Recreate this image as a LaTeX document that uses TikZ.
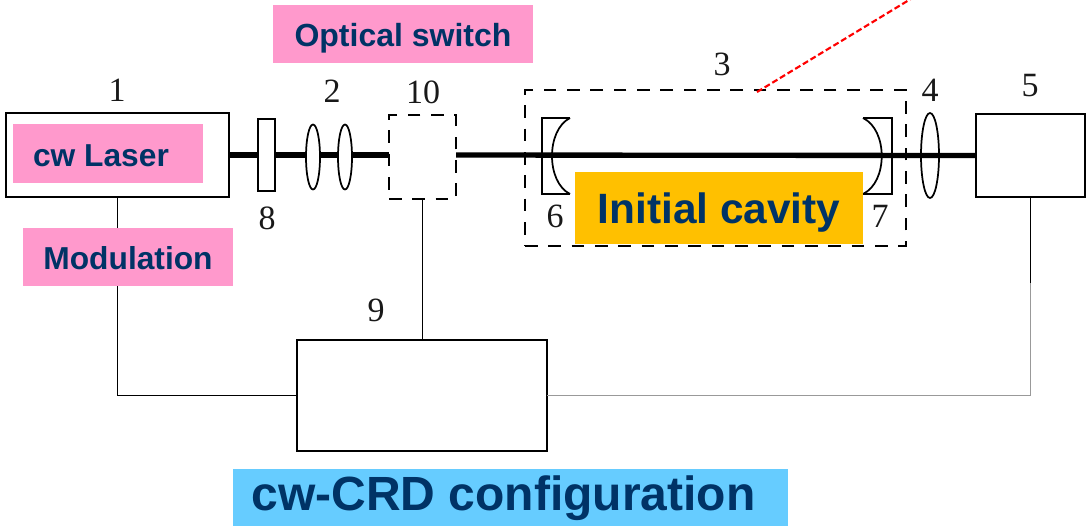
\documentclass[tikz,border=0pt]{standalone}
\usepackage{fontspec}
\setmainfont{Liberation Serif}
\newfontfamily\tagfont{Liberation Sans}[BoldFont={Liberation Sans Bold}]
\usetikzlibrary{shapes.geometric}
\definecolor{navy}{HTML}{003366}
\definecolor{pinktag}{HTML}{FF99CC}
\definecolor{orangetag}{HTML}{FFC000}
\definecolor{bluetag}{HTML}{66CCFF}
\definecolor{greyline}{HTML}{999999}
\tikzset{
  sz/.style 2 args={minimum width=#1*0.75pt, minimum height=#2*0.75pt, inner sep=0pt, outer sep=0pt},
  solidbox/.style={draw=black, line width=2.2pt, fill=white},
  dashbox/.style={draw=black, line width=1.9pt, dash pattern=on 9.5pt off 8pt},
  lens/.style={ellipse, draw=black, line width=1.3pt, inner sep=0pt, outer sep=0pt},
  beam/.style={line width=4pt, black},
  wire/.style={line width=1pt, black},
  greywire/.style={line width=1pt, greyline},
  num/.style={font=\fontsize{25.5pt}{25.5pt}\selectfont, inner sep=0pt, text=black!90},
  tag/.style={text=navy, inner sep=0pt, outer sep=0pt, font=\tagfont\bfseries},
  mirrorline/.style={line width=1.3pt, black},
}
\begin{document}
\begin{tikzpicture}[x=0.75pt, y=-0.75pt]
\useasboundingbox (0,0) rectangle (1086,526);
% red pointer + cavity
\node[sz={381}{156}, dashbox] (cavity) at (715.5,168) {};
\coordinate (ptr) at (914,-3);
\draw[red, line width=1.6pt, dash pattern=on 4.5pt off 2.2pt] (757,92) coordinate (ptrstart) -- (ptr);
% mirrors
\draw[mirrorline] (570,118) -- (542,118) -- (542,194) -- (570,194);
\draw[mirrorline] (570,118) .. controls (546,130) and (546,182) .. (570,194);
\draw[mirrorline] (863,118) -- (892,118) -- (892,194) -- (863,194);
\draw[mirrorline] (863,118) .. controls (888,130) and (888,182) .. (863,194);
% solid boxes
\node[sz={223}{84}, solidbox] (laser) at (117.5,155) {};
\node[sz={17}{72}, draw=black, line width=1.6pt, fill=white] (plate) at (266.5,155) {};
\node[sz={67}{84}, dashbox] (sw) at (422.5,157) {};
\node[sz={109}{83}, solidbox] (det) at (1030.5,155.5) {};
\node[sz={250}{111}, solidbox] (ctrl) at (422,395.5) {};
\coordinate (greyturn) at (1030.5,283);
% beam
\draw[beam] (laser.east) -- (plate.west);
\draw[beam] (plate.east) -- (sw.west |- plate.east);
\draw[beam] (sw.east |- plate.east) -- (det.west);
% lenses
\node[lens, fill=white, sz={14}{65}] (l1) at (313,157) {};
\node[lens, fill=white, sz={14}{65}] (l2) at (345,157) {};
\node[lens, sz={18}{85}] (l3) at (930,155.5) {};
% wires
\draw[wire] (laser.south) |- (ctrl.west);
\draw[wire] (sw.south) -- (sw.south |- ctrl.north);
\draw[wire] (det.south) -- (greyturn);
\draw[greywire] (ctrl.east) -| (greyturn);
% tags
\node[sz={190}{59}, fill=pinktag, tag, font=\tagfont\bfseries\fontsize{23.8pt}{24pt}\selectfont, text height=19pt, text depth=0pt] (tlaser) at (108,153.5) {\kern-10.5pt cw Laser};
\node[sz={260}{58}, fill=pinktag, tag, font=\tagfont\bfseries\fontsize{24pt}{24pt}\selectfont, text height=18.5pt, text depth=0pt] (tswitch) at (403,34) {Optical switch};
\node[sz={210}{58}, fill=pinktag, tag, font=\tagfont\bfseries\fontsize{23.8pt}{24pt}\selectfont, text height=18.5pt, text depth=0pt] (tmod) at (128,257) {Modulation};
\node[sz={288}{72}, fill=orangetag, tag, font=\tagfont\bfseries\fontsize{31.8pt}{32pt}\selectfont, text height=23pt, text depth=0pt] (tcav) at (719,208) {Initial cavity};
\node[sz={555}{57}, fill=bluetag, tag, font=\tagfont\bfseries\fontsize{36pt}{36pt}\selectfont, text height=26pt, text depth=6pt] (tcrd) at (510.5,497.5) {\kern-10.5pt cw-CRD configuration};
% numbers
\node[num] (n1) at (117,90) {1};
\node[num] (n2) at (332,91) {2};
\node[num] (n10) at (423,92) {10};
\node[num] (n3) at (722,64) {3};
\node[num] (n4) at (930,90) {4};
\node[num] (n5) at (1030,86) {5};
\node[num] (n6) at (555,216) {6};
\node[num] (n7) at (880,216) {7};
\node[num] (n8) at (267,218) {8};
\node[num] (n9) at (376,310) {9};
\end{tikzpicture}
\end{document}
